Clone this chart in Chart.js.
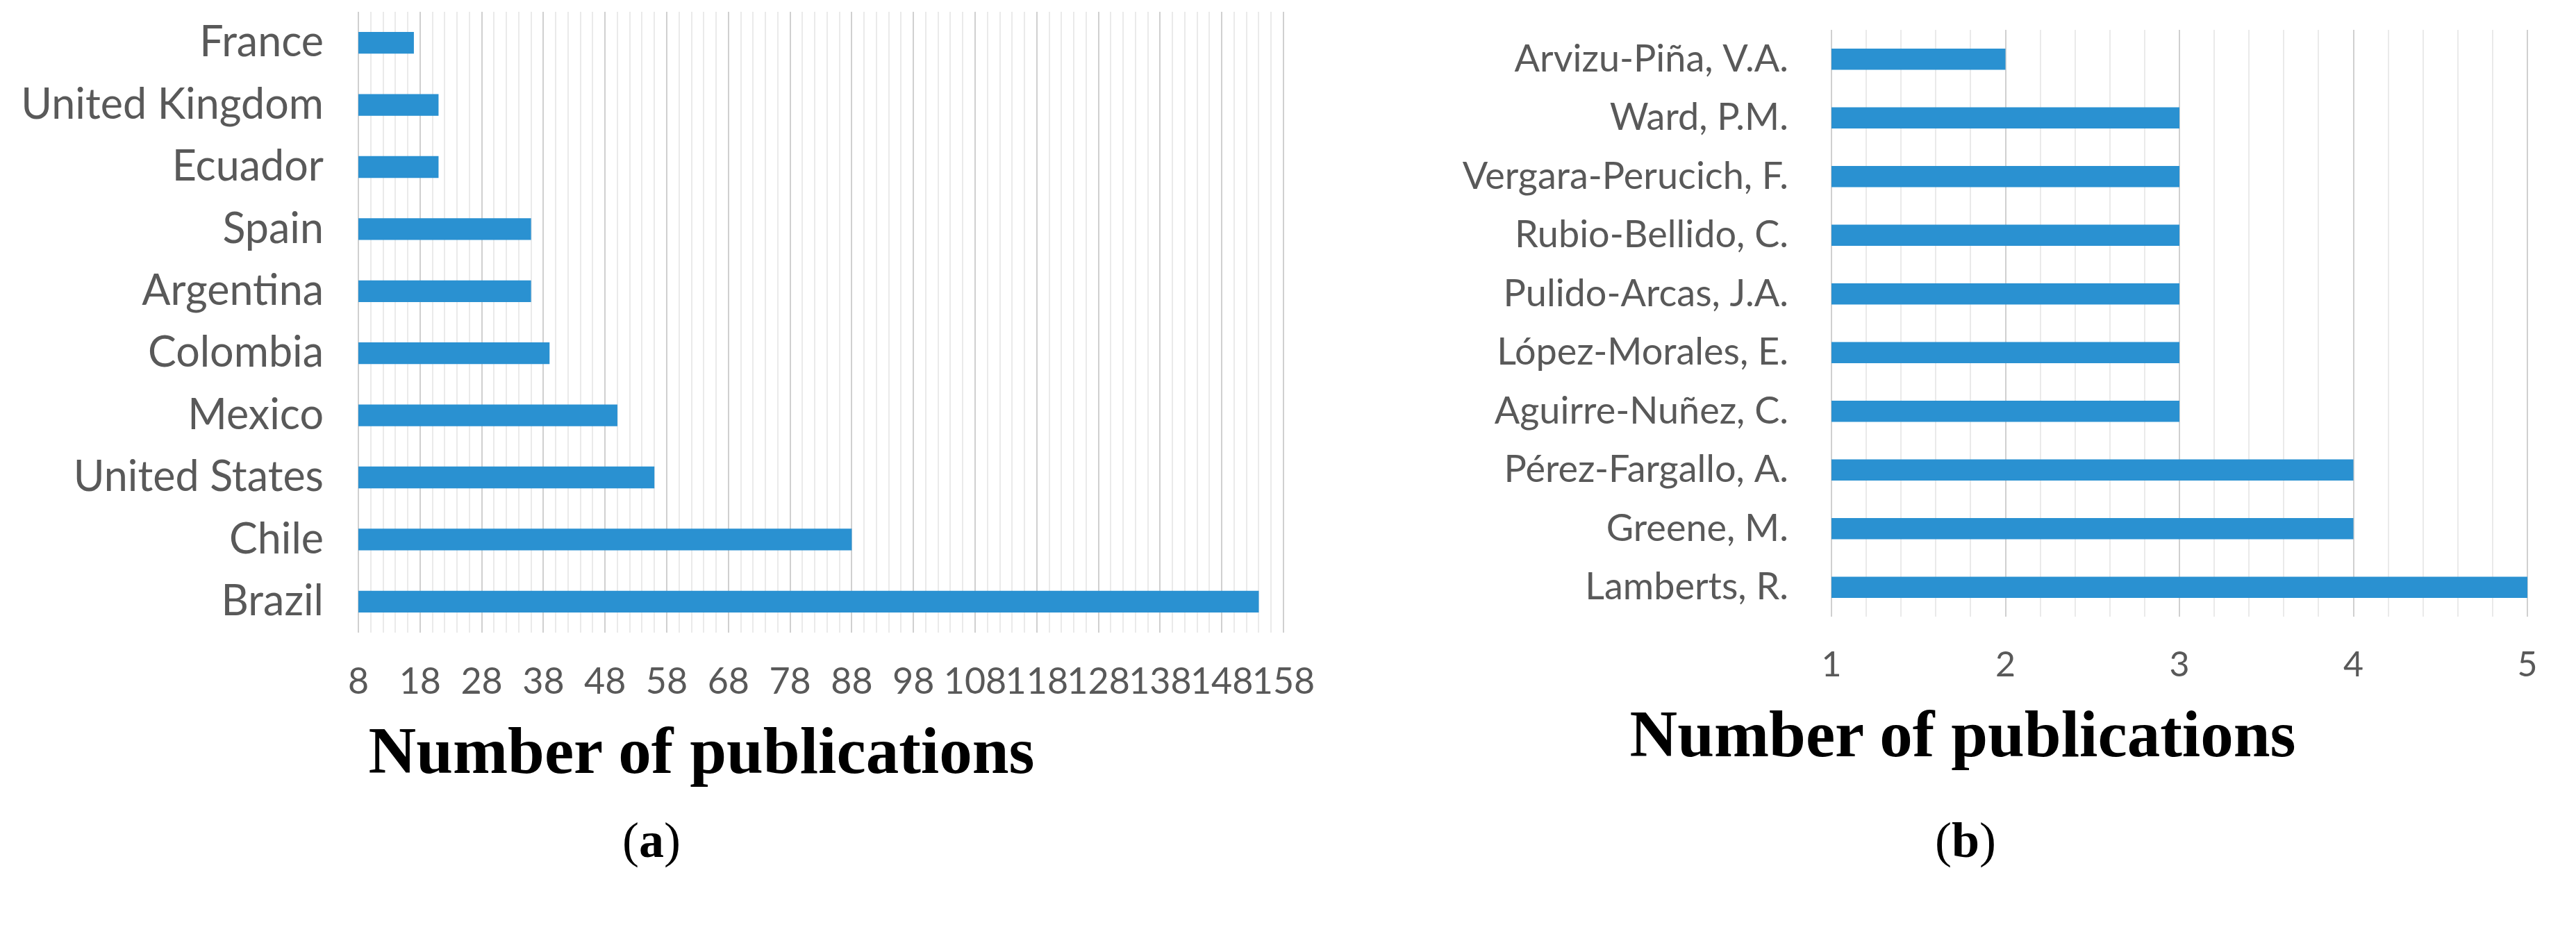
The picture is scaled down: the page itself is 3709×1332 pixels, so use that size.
<!DOCTYPE html>
<html>
<head>
<meta charset="utf-8">
<script src="https://cdn.jsdelivr.net/npm/chart.js@4.4.1/dist/chart.umd.min.js"></script>
<style>
  html, body { margin: 0; padding: 0; background: #fff; }
  #page { position: relative; width: 3709px; height: 1332px; background: #fff; overflow: hidden; }
  canvas { position: absolute; top: 0; }
  .axis-title { position: absolute; font-family: "Liberation Serif", "Times New Roman", serif; font-weight: bold; font-size: 95px; line-height: 1; color: #000; white-space: nowrap; transform: translateX(-50%); }
  .caption { position: absolute; font-family: "Liberation Serif", "Times New Roman", serif; font-size: 72px; line-height: 1; color: #000; white-space: nowrap; transform: translateX(-50%); }
  .caption b { font-weight: bold; }
</style>
</head>
<body>
<div id="page">
  <canvas id="countries" width="1900" height="1010" style="left:0"></canvas>
  <canvas id="authors" width="1809" height="1010" style="left:1900px"></canvas>
  <div class="axis-title" style="left:1010px; top:1034px">Number of publications</div>
  <div class="axis-title" style="left:2826px; top:1010px">Number of publications</div>
  <div class="caption" style="left:938px; top:1174px">(<b>a</b>)</div>
  <div class="caption" style="left:2830px; top:1174px">(<b>b</b>)</div>
</div>
<script>
// (a) countries
const countries = ['France', 'United Kingdom', 'Ecuador', 'Spain', 'Argentina', 'Colombia', 'Mexico', 'United States', 'Chile', 'Brazil'];
const countryPubs = [17, 21, 21, 36, 36, 39, 50, 56, 88, 154];
const countryTicks = [8, 18, 28, 38, 48, 58, 68, 78, 88, 98, 108, 118, 128, 138, 148, 158];

// (b) authors
const authors = ['Arvizu-Piña, V.A.', 'Ward, P.M.', 'Vergara-Perucich, F.', 'Rubio-Bellido, C.', 'Pulido-Arcas, J.A.', 'López-Morales, E.', 'Aguirre-Nuñez, C.', 'Pérez-Fargallo, A.', 'Greene, M.', 'Lamberts, R.'];
const authorPubs = [2, 3, 3, 3, 3, 3, 3, 4, 4, 5];
const authorTicks = [1, 2, 3, 4, 5];

const BAR = '#2A91D1';
const TEXT = '#595959';
const FONT = 'Lato, "Open Sans", sans-serif';

function makeChart(id, labels, values, tickLabels, opts) {
    const isMajor = v => tickLabels.some(t => Math.abs(t - v) < 1e-6);
    return new Chart(document.getElementById(id), {
        type: 'bar',
        data: {
            labels: labels,
            datasets: [{
                data: values,
                backgroundColor: BAR,
                borderWidth: 0,
                barPercentage: opts.barPct,
                categoryPercentage: 1
            }]
        },
        options: {
            indexAxis: 'y',
            responsive: false,
            animation: false,
            layout: { padding: { top: opts.top, right: opts.right, left: 0, bottom: 0 } },
            plugins: { legend: { display: false }, tooltip: { enabled: false } },
            scales: {
                x: {
                    type: 'linear',
                    min: tickLabels[0],
                    max: tickLabels[tickLabels.length - 1],
                    border: { display: false },
                    grid: {
                        drawTicks: false,
                        color: ctx => isMajor(ctx.tick.value) ? '#D0D0D0' : '#EAEAEA',
                        lineWidth: 2
                    },
                    ticks: {
                        stepSize: opts.minorStep,
                        autoSkip: false,
                        maxRotation: 0,
                        padding: 40,
                        color: TEXT,
                        font: { family: FONT, size: opts.tickSize },
                        callback: v => isMajor(v) ? String(Math.round(v)) : ''
                    },
                    afterFit: scale => {
                        scale.height = opts.xHeight;
                        scale.paddingLeft = 0;
                        scale.paddingRight = 0;
                    }
                },
                y: {
                    border: { display: false },
                    grid: { display: false, drawTicks: false },
                    ticks: {
                        padding: opts.labelGap,
                        color: TEXT,
                        font: { family: FONT, size: opts.labelSize }
                    },
                    afterFit: scale => {
                        scale.width = opts.yWidth;
                        scale.paddingTop = 0;
                        scale.paddingBottom = 0;
                    }
                }
            }
        }
    });
}

makeChart('countries', countries, countryPubs, countryTicks,
    { top: 17, right: 52, xHeight: 99, yWidth: 516, minorStep: 2, barPct: 0.35, labelSize: 61, labelGap: 50, tickSize: 52 });
makeChart('authors', authors, authorPubs, authorTicks,
    { top: 43, right: 70, xHeight: 122, yWidth: 737, minorStep: 0.2, barPct: 0.36, labelSize: 54, labelGap: 62, tickSize: 50 });
</script>
</body>
</html>
